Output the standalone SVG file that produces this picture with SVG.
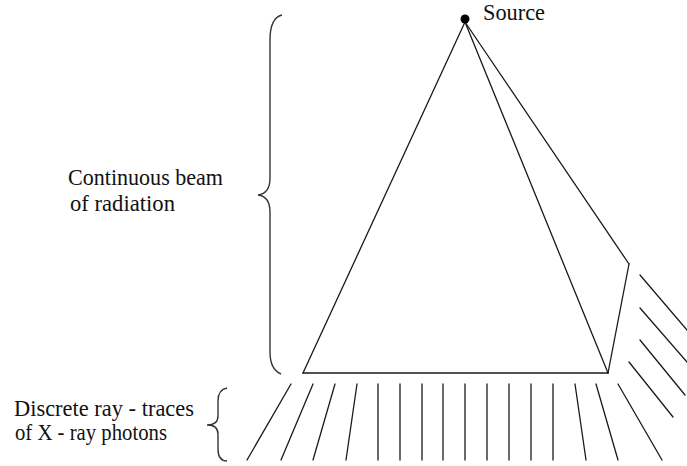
<svg xmlns="http://www.w3.org/2000/svg" width="687" height="466" viewBox="0 0 687 466">
<style>
.ln{stroke:#1a1a1a;stroke-width:1.3;fill:none;stroke-linecap:round}
.br{stroke:#333;stroke-width:1.4;fill:none}
.t{font-family:"Liberation Serif","Times New Roman",serif;font-size:23px;fill:#111}
</style>
<rect width="687" height="466" fill="#fff"/>
<g id="connectors">
  <g id="beam">
    <line class="ln" x1="465" y1="22" x2="303" y2="373"/>
    <line class="ln" x1="303" y1="373" x2="608" y2="373" style="stroke-width:1.6"/>
    <line class="ln" x1="465" y1="22" x2="608" y2="373"/>
    <line class="ln" x1="465" y1="22" x2="629" y2="264"/>
    <line class="ln" x1="629" y1="264" x2="608" y2="373"/>
  </g>
  <g id="rays">
    <line class="ln" x1="291" y1="384" x2="247" y2="460"/>
    <line class="ln" x1="313" y1="384" x2="281" y2="460"/>
    <line class="ln" x1="335" y1="384" x2="313" y2="460"/>
    <line class="ln" x1="357" y1="384" x2="346" y2="460"/>
    <line class="ln" x1="378" y1="384" x2="378" y2="460"/>
    <line class="ln" x1="400" y1="384" x2="400" y2="460"/>
    <line class="ln" x1="422" y1="384" x2="422" y2="460"/>
    <line class="ln" x1="443" y1="384" x2="443" y2="460"/>
    <line class="ln" x1="465" y1="384" x2="465" y2="460"/>
    <line class="ln" x1="487" y1="384" x2="487" y2="460"/>
    <line class="ln" x1="509" y1="384" x2="509" y2="460"/>
    <line class="ln" x1="531" y1="384" x2="531" y2="460"/>
    <line class="ln" x1="553" y1="384" x2="553" y2="460"/>
    <line class="ln" x1="575" y1="384" x2="586" y2="460"/>
    <line class="ln" x1="596" y1="384" x2="618" y2="460"/>
    <line class="ln" x1="618" y1="384" x2="662" y2="460"/>
    <line class="ln" x1="640" y1="275" x2="687" y2="330"/>
    <line class="ln" x1="640" y1="308" x2="687" y2="362"/>
    <line class="ln" x1="640" y1="340" x2="685" y2="395"/>
    <line class="ln" x1="629" y1="362" x2="673" y2="417"/>
  </g>
</g>
<g id="source">
  <circle cx="465" cy="19" r="4.5" fill="#000"/>
  <text class="t" x="483" y="20" textLength="62" lengthAdjust="spacingAndGlyphs">Source</text>
</g>
<g id="continuous-beam">
  <path class="br" d="M282,15 C274,17 270,24 270,40 L270,178 C270,188 266,194 258,195 C266,196 270,202 270,212 L270,352 C270,364 274,371 281,374"/>
  <text class="t" x="68" y="185" textLength="155" lengthAdjust="spacingAndGlyphs">Continuous beam</text>
  <text class="t" x="70" y="211" textLength="105" lengthAdjust="spacingAndGlyphs">of radiation</text>
</g>
<g id="discrete-rays">
  <path class="br" d="M227,388 C221,389 218,393 218,401 L218,416 C218,422 214,425 207,425 C214,425 218,428 218,434 L218,449 C218,457 221,461 227,461"/>
  <text class="t" x="14" y="416" textLength="180" lengthAdjust="spacingAndGlyphs">Discrete ray - traces</text>
  <text class="t" x="15" y="440" textLength="152" lengthAdjust="spacingAndGlyphs">of X - ray photons</text>
</g>
</svg>
